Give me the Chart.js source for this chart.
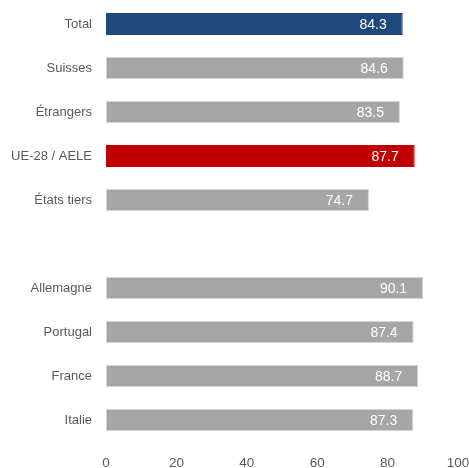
<!DOCTYPE html>
<html>
<head>
<meta charset="utf-8">
<script src="https://cdn.jsdelivr.net/npm/chart.js@4/dist/chart.umd.min.js"></script>
<style>
  html, body { margin: 0; padding: 0; background: #fff; }
  #wrap { width: 469px; height: 468px; }
</style>
</head>
<body>
<div id="wrap"><canvas id="chart" width="469" height="468"></canvas></div>
<script>
// categories (empty string = the gap between the two groups)
var categories = ['Total', 'Suisses', 'Étrangers', 'UE-28 / AELE', 'États tiers', '', 'Allemagne', 'Portugal', 'France', 'Italie'];
var values = [84.3, 84.6, 83.5, 87.7, 74.7, null, 90.1, 87.4, 88.7, 87.3];
var barColors = ['#1f497d', '#a6a6a6', '#a6a6a6', '#c00000', '#a6a6a6', '#a6a6a6', '#a6a6a6', '#a6a6a6', '#a6a6a6', '#a6a6a6'];
var xTicks = [0, 20, 40, 60, 80, 100];

var fontFamily = '"Liberation Sans", Arial, sans-serif';

var valueLabels = {
    id: 'valueLabels',
    afterDatasetsDraw: function(chart) {
        var ctx = chart.ctx;
        var meta = chart.getDatasetMeta(0);
        ctx.save();
        ctx.font = '14px ' + fontFamily;
        ctx.fillStyle = '#ffffff';
        ctx.textAlign = 'right';
        ctx.textBaseline = 'middle';
        meta.data.forEach(function(bar, i) {
            if (values[i] == null) return;
            ctx.fillText(values[i].toFixed(1), bar.x - 16, bar.y + 1);
        });
        ctx.restore();
    }
};

var ctx = document.getElementById('chart').getContext('2d');
new Chart(ctx, {
    type: 'bar',
    data: {
        labels: categories,
        datasets: [{
            data: values,
            backgroundColor: barColors,
            borderColor: function(c) {
                return c.dataIndex === 0 || c.dataIndex === 3 ? barColors[c.dataIndex] : '#d4d4d4';
            },
            borderWidth: 1,
            borderSkipped: false,
            barPercentage: 0.5,
            categoryPercentage: 1.0
        }]
    },
    options: {
        indexAxis: 'y',
        responsive: false,
        animation: false,
        layout: { padding: { top: 2, right: 11, bottom: 0, left: 0 } },
        plugins: {
            legend: { display: false },
            tooltip: { enabled: false }
        },
        scales: {
            x: {
                min: 0,
                max: 100,
                afterBuildTicks: function(axis) {
                    axis.ticks = xTicks.map(function(v) { return { value: v }; });
                },
                grid: { display: false, drawTicks: false },
                border: { display: false },
                ticks: {
                    color: '#595959',
                    font: { family: fontFamily, size: 13.5 },
                    padding: 13
                },
                afterFit: function(axis) {
                    axis.height = 26;
                    axis.paddingLeft = 0;
                    axis.paddingRight = 0;
                }
            },
            y: {
                grid: { display: false, drawTicks: false },
                border: { display: false },
                ticks: {
                    color: '#595959',
                    font: { family: fontFamily, size: 13 },
                    padding: 14
                },
                afterFit: function(axis) {
                    axis.width = 106;
                    axis.paddingTop = 0;
                    axis.paddingBottom = 0;
                }
            }
        }
    },
    plugins: [valueLabels]
});
</script>
</body>
</html>
